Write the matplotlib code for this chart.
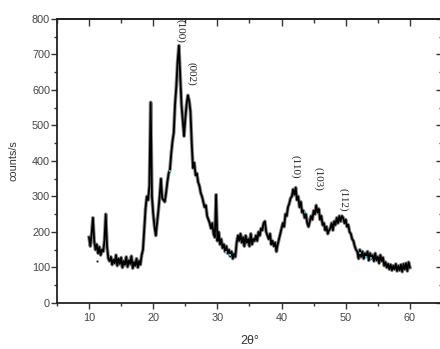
import numpy as np
import matplotlib
matplotlib.use("Agg")
import matplotlib.pyplot as plt
from matplotlib.ticker import MultipleLocator, NullFormatter

# scan grid 10..60 deg, 0.2 deg step
two_theta = np.round(np.arange(10.0, 60.01, 0.2), 1)
counts = [
    185, 160, 195, 240, 175, 150, 165, 140, 158, 135, 150,
    145, 175, 250, 160, 125, 118, 130, 108, 122, 112,
    135, 105, 125, 110, 128, 100, 118, 108, 130, 102,
    120, 110, 132, 98, 115, 105, 125, 100, 118, 108,
    135, 150, 210, 265, 300, 290, 330, 565, 300, 250,
    215, 190, 225, 260, 300, 350, 295, 290, 285, 310,
    340, 365, 375, 420, 455, 480, 560, 610, 680, 725,
    640, 560, 515, 470, 520, 560, 585, 570, 540, 450,
    380, 395, 360, 365, 340, 330, 310, 300, 285, 270,
    275, 245, 235, 225, 210, 225, 195, 185, 305, 175,
    200, 165, 180, 155, 165, 145, 160, 140, 150, 132,
    145, 125, 138, 130, 170, 190, 175, 195, 170, 185,
    160, 190, 170, 180, 160, 195, 165, 180, 175, 190,
    175, 200, 190, 210, 205, 225, 230, 200, 190, 180,
    195, 165, 175, 160, 170, 145, 165, 180, 195, 210,
    225, 215, 250, 245, 270, 280, 295, 300, 320, 305,
    325, 290, 300, 270, 285, 255, 260, 240, 250, 225,
    215, 230, 245, 235, 260, 250, 275, 255, 265, 235,
    245, 220, 225, 205, 215, 195, 205, 210, 225, 205,
    230, 220, 240, 225, 245, 230, 245, 240, 225, 235,
    215, 220, 200, 195, 180, 175, 160, 150, 145, 125,
    150, 130, 145, 125, 140, 132, 145, 120, 140, 125,
    135, 118, 140, 120, 130, 112, 135, 118, 128, 105,
    115, 100, 110, 95, 108, 92, 105, 95, 110, 90,
    105, 92, 108, 88, 110, 95, 112, 90, 115, 100,
]

cyan_x = [22.6, 31.3, 32.0, 43.6, 52.2, 53.2, 54.0]
cyan_y = [371, 145, 135, 255, 140, 130, 128]

peak_labels = ["(100)", "(002)", "(110)", "(103)", "(112)"]
label_x = [24.2, 25.9, 42.1, 45.7, 49.6]
label_y = [765, 645, 385, 350, 290]

fig = plt.figure(figsize=(4.4, 3.49), dpi=100)
ax = fig.add_axes([0.1295, 0.1318, 0.875, 0.8138])

ax.plot(two_theta, counts, color="#8a8a8a", lw=2.6)
ax.plot(two_theta, counts, color="black", lw=1.3)
ax.plot(cyan_x, cyan_y, "s", color="#20c0c8", ms=1.8, mew=0)
ax.plot([11.2], [117], "s", color="black", ms=1.3, mew=0)

for t, x, y in zip(peak_labels, label_x, label_y):
    ax.text(x, y, t, rotation=270, ha="center", va="center",
            fontsize=8, family="Liberation Serif", color="#222222")

ax.set_xlim(5, 65)
ax.set_ylim(0, 800)
ax.set_xticks([10, 20, 30, 40, 50, 60])
ax.xaxis.set_minor_locator(MultipleLocator(5))
ax.yaxis.set_major_locator(MultipleLocator(100))
ax.yaxis.set_minor_locator(MultipleLocator(50))

ax.tick_params(which="both", direction="out", labelsize=7.8,
               labelcolor="#444444", color="#333333", width=1)
ax.tick_params(axis="x", which="both", pad=3)
ax.tick_params(axis="y", which="both", pad=1)
ax.tick_params(which="major", length=4)
ax.tick_params(which="minor", length=2)

# top and right axes: ticks only, pointing inwards
top = ax.secondary_xaxis("top")
top.set_xticks([10, 20, 30, 40, 50, 60])
top.xaxis.set_minor_locator(MultipleLocator(5))
top.xaxis.set_major_formatter(NullFormatter())
top.tick_params(which="both", direction="in", color="#333333", width=1)
top.tick_params(which="major", length=5)
top.tick_params(which="minor", length=3)
right = ax.secondary_yaxis("right")
right.yaxis.set_major_locator(MultipleLocator(100))
right.yaxis.set_minor_locator(MultipleLocator(50))
right.yaxis.set_major_formatter(NullFormatter())
right.tick_params(which="both", direction="in", color="#333333", width=1)
right.tick_params(which="major", length=4)
right.tick_params(which="minor", length=2)

for a in (ax, top, right):
    for s in a.spines.values():
        s.set_linewidth(1.3)
        s.set_color("#222222")

ax.set_ylabel("counts/s", fontsize=7.8, color="#333333", labelpad=10,
              family="Liberation Sans")
ax.set_xlabel("2θ°", fontsize=9, color="#333333", labelpad=9,
              family="Liberation Sans")
for lab in ax.get_xticklabels() + ax.get_yticklabels():
    lab.set_family("Liberation Sans")

fig.savefig("out.png", dpi=100)
